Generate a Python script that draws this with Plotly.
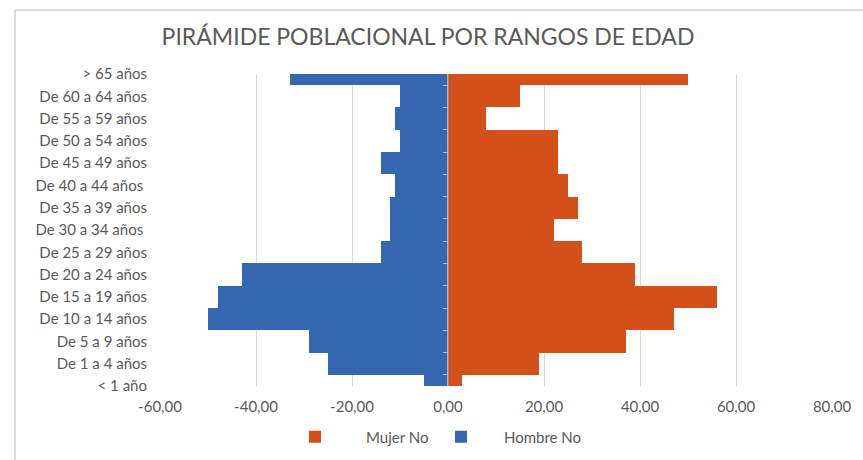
import plotly.graph_objects as go

categorias = ["< 1 año", "De 1 a 4 años", "De 5 a 9 años", "De 10 a 14 años", "De 15 a 19 años",
              "De 20 a 24 años", "De 25 a 29 años", "De 30 a 34 años ", "De 35 a 39 años",
              "De 40 a 44 años ", "De 45 a 49 años", "De 50 a 54 años", "De 55 a 59 años",
              "De 60 a 64 años", "> 65 años"]
mujer = [3, 19, 37, 47, 56, 39, 28, 22, 27, 25, 23, 23, 8, 15, 50]
hombre = [-5, -25, -29, -50, -48, -43, -14, -12, -12, -11, -14, -10, -11, -10, -33]
x_ticks = [-60, -40, -20, 0, 20, 40, 60, 80]
x_tick_labels = ["-60,00", "-40,00", "-20,00", "0,00", "20,00", "40,00", "60,00", "80,00"]

AZUL = "#3566b0"
NARANJA = "#d4501a"
GRIS = "#595959"
FONT = "Lato"

fig = go.Figure()
fig.add_trace(go.Bar(y=categorias, x=mujer, orientation="h", name="Mujer No",
                     marker=dict(color=NARANJA, line=dict(width=0)), width=1, legend="legend"))
fig.add_trace(go.Bar(y=categorias, x=hombre, orientation="h", name="Hombre No",
                     marker=dict(color=AZUL, line=dict(width=0)), width=1, legend="legend2"))

W, H = 863, 460
L, R, T, B = 160, 31, 74, 74
pw, ph = W - L - R, H - T - B

def px(xp):
    return (xp - L) / pw

def py(yp):
    return (H - B - yp) / ph

fig.update_layout(
    width=W, height=H,
    margin=dict(l=L, r=R, t=T, b=B, autoexpand=False),
    paper_bgcolor="white", plot_bgcolor="white",
    barmode="overlay", bargap=0,
    font=dict(family=FONT, color=GRIS, size=15),
    title=dict(text="PIRÁMIDE POBLACIONAL POR RANGOS DE EDAD", xref="container", x=428 / W,
               xanchor="center", yref="container", y=1 - 37 / H, yanchor="middle",
               font=dict(family=FONT, size=23, color=GRIS)),
    xaxis=dict(range=[-60, 80], tickvals=x_ticks, ticktext=x_tick_labels,
               showgrid=True, gridcolor="#d9d9d9", gridwidth=1,
               zeroline=True, zerolinecolor="#c8c0b0", zerolinewidth=1,
               showline=False, ticks="", ticklabelstandoff=10,
               tickfont=dict(size=15, color=GRIS)),
    yaxis=dict(type="category", categoryorder="array", categoryarray=categorias,
               range=[0, 14], showgrid=False, zeroline=False, showline=False,
               ticks="", tickfont=dict(size=15, color=GRIS), ticklabelstandoff=12),
    yaxis2=dict(type="category", categoryorder="array", categoryarray=categorias,
                overlaying="y", matches="y", anchor="free", position=px(448),
                showticklabels=False, ticks="outside", tickson="boundaries",
                ticklen=5, tickcolor="#a9bde0", tickwidth=1, showgrid=False,
                zeroline=False, showline=False),
    legend=dict(orientation="h", x=px(264), xanchor="left", y=py(437), yanchor="middle",
                font=dict(size=15, color=GRIS), itemwidth=92, bgcolor="rgba(0,0,0,0)"),
    legend2=dict(orientation="h", x=px(418), xanchor="left", y=py(437), yanchor="middle",
                 font=dict(size=15, color=GRIS), itemwidth=76, bgcolor="rgba(0,0,0,0)"),
    showlegend=True,
    shapes=[
        dict(type="line", xref="paper", yref="paper", x0=px(15), x1=px(15), y0=py(10), y1=py(462),
             line=dict(color="#d0d0d0", width=1.5)),
        dict(type="line", xref="paper", yref="paper", x0=px(15), x1=px(866), y0=py(10), y1=py(10),
             line=dict(color="#d0d0d0", width=1.5)),
    ],
)
fig.add_trace(go.Bar(y=categorias, x=[0] * len(categorias), orientation="h", yaxis="y2",
                     showlegend=False, hoverinfo="skip", marker=dict(color="rgba(0,0,0,0)")))

fig.write_html("out.html", config={"displayModeBar": False},
               post_script="document.body.style.margin='0';document.body.style.padding='0';")
